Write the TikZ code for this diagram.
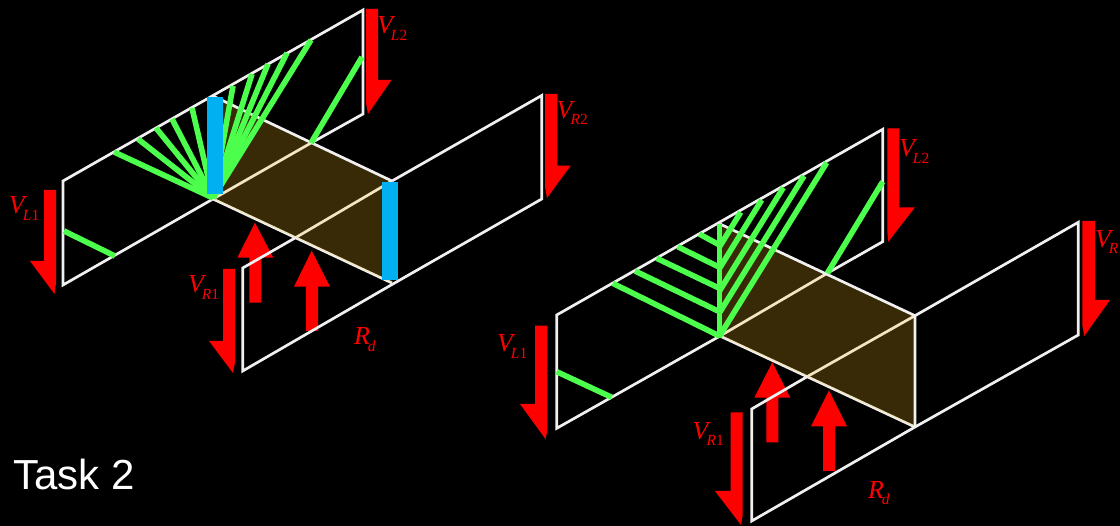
\documentclass[tikz,border=0pt]{standalone}
\usepackage{fontspec}
\setmainfont{Liberation Serif}
\newfontfamily\tasksans{Liberation Sans}
\definecolor{glow}{HTML}{4DFF4D}
\definecolor{barblue}{HTML}{00B0F0}
\definecolor{amber}{HTML}{FFC020}
\tikzset{
  wire/.style={draw=white!94!black,line width=2.7pt,line join=miter},
  ray/.style={draw=glow,line width=5.6pt},
  gate/.style={fill=barblue,draw=none},
  bias/.style={fill=red,draw=none},
  channel/.style={fill=amber,fill opacity=.22,draw=none},
  lab/.style={text=red,anchor=base west,inner sep=0pt,outer sep=0pt},
}
\newcommand{\lbl}[4]{\node[lab] (#1) at (#2) {{\fontsize{26}{26}\selectfont\itshape #3}\hspace{-2pt}\raisebox{-6.5pt}{\fontsize{15.5}{15.5}\selectfont #4}};}
\begin{document}
\begin{tikzpicture}[x=1pt,y=-1pt]
\useasboundingbox (0,0) rectangle (1120,526);
\fill[black] (0,0) rectangle (1120,526);

%% LEFT DIAGRAM
% up arrows
\fill[bias] (255,222.7) -- (273.3,257.7) -- (261.3,257.7) -- (261.3,302.7) -- (249.3,302.7) -- (249.3,257.7) -- (237.3,257.7) -- cycle;
\fill[bias] (311.7,250.7) -- (330,286.7) -- (318,286.7) -- (318,331) -- (306,331) -- (306,286.7) -- (294,286.7) -- cycle;
% panels
\draw[wire] (213,199) -- (63,285) -- (63,181) -- (363,10) -- (363,114) -- (311,143);
\draw[wire] (311,143) -- (213,199);
\draw[wire] (213,199) -- (392,283);
\draw[wire] (295,238) -- (242.7,268) -- (242.7,371) -- (392,284.5) -- (541.7,199) -- (541.7,95.5) -- (392,181);
\draw[wire] (295,238) -- (392,181);
% channel
\fill[channel] (213,199) -- (213,96) -- (392,181) -- (392,283) -- cycle;
\draw[wire] (213,96) -- (392,181);
% rays
\foreach \ex/\ey in {114/152,138/139,156/128,172/119,192/108,233/86,252/74,268/64,287/53,311/40}
  \draw[ray] (213,198) -- (\ex,\ey);
\draw[ray] (311,143) -- (362,57);
\draw[ray] (64,231) -- (115,256);
% gates
\fill[gate] (207,97) rectangle (223,194);
\fill[gate] (382,182) rectangle (398,280);
% down arrows
\fill[bias] (366,9) -- (378,9) -- (378,80) -- (391.5,80) -- (368,114) -- (366,103) -- cycle;
\fill[bias] (44,190) -- (56,190) -- (56,283) -- (54.5,294) -- (30,261) -- (44,261) -- cycle;
\fill[bias] (545,94) -- (557.3,94) -- (557.3,165.7) -- (570.7,165.7) -- (547,198) -- (545,187) -- cycle;
\fill[bias] (223,269) -- (235,269) -- (235,362) -- (233,373) -- (209,341) -- (223,341) -- cycle;
% labels
\lbl{lvl2}{377,34}{V}{\textit{L}2}
\lbl{lvl1}{9,214}{V}{\textit{L}1}
\lbl{lvr1}{188,293}{V}{\textit{R}1}
\lbl{lvr2}{556.7,118.5}{V}{\textit{R}2}
\lbl{lrd}{354,345}{R}{\textit{d}}

%% RIGHT DIAGRAM
\fill[bias] (772.3,362.3) -- (790.3,397.7) -- (778.3,397.7) -- (778.3,442.3) -- (766.3,442.3) -- (766.3,397.7) -- (754.3,397.7) -- cycle;
\fill[bias] (829,390.3) -- (847,426.3) -- (835,426.3) -- (835,471) -- (823,471) -- (823,426.3) -- (811,426.3) -- cycle;
\draw[wire] (720,336) -- (556.7,428.3) -- (556.7,315) -- (882.7,129.3) -- (882.7,241.7) -- (826,274);
\draw[wire] (826,274) -- (720,336);
\draw[wire] (720,336) -- (915,427);
\draw[wire] (808.3,376) -- (751.7,409) -- (751.7,521) -- (915,427) -- (1078.3,335) -- (1078.3,222.3) -- (915,315.7);
\draw[wire] (808.3,376) -- (915,315.7);
\fill[channel] (720,336) -- (720,224) -- (915,315.7) -- (915,427) -- cycle;
\draw[wire] (720,224) -- (915,315.7) -- (915,427);
\draw[ray] (719.5,338) -- (719.5,224);
\draw[ray] (612.7,283.3) -- (719.5,336);
\draw[ray] (635,271) -- (719.5,311.7);
\draw[ray] (656.7,258.3) -- (719.5,288.3);
\draw[ray] (677.7,246.7) -- (719.5,267.3);
\draw[ray] (699.3,234) -- (719.5,245);
\draw[ray] (719.5,336) -- (826.7,162.7);
\draw[ray] (719.5,312.7) -- (804,176);
\draw[ray] (719.5,291) -- (783.3,187.7);
\draw[ray] (719.5,268.4) -- (761.7,200);
\draw[ray] (719.5,246.8) -- (740.7,212.3);
\draw[ray] (827.3,273.3) -- (882.7,181.7);
\draw[ray] (556.7,371.7) -- (611.7,397.3);
\fill[bias] (887.3,128.3) -- (899.3,128.3) -- (899.3,207.3) -- (915,207.3) -- (888.3,241.7) -- (887.3,232) -- cycle;
\fill[bias] (1082.3,221) -- (1095,221) -- (1095,300) -- (1110,300) -- (1084.3,336) -- (1082.3,325) -- cycle;
\fill[bias] (535,325.7) -- (547.3,325.7) -- (547.3,430) -- (545.7,439.3) -- (520,404) -- (535,404) -- cycle;
\fill[bias] (730.7,412.3) -- (742.7,412.3) -- (742.7,515) -- (741,525) -- (715,491) -- (730.7,491) -- cycle;
\lbl{rvl2}{899,157}{V}{\textit{L}2}
\lbl{rvr}{1095,247.3}{V}{\textit{R}}
\lbl{rvl1}{497,352}{V}{\textit{L}1}
\lbl{rvr1}{692.7,439.3}{V}{\textit{R}1}
\lbl{rrd}{868,498.3}{R}{\textit{d}}

\node[text=white,anchor=base west,inner sep=0pt] (task) at (13,489.3) {\tasksans\fontsize{42}{42}\selectfont Task 2};
\end{tikzpicture}
\end{document}
